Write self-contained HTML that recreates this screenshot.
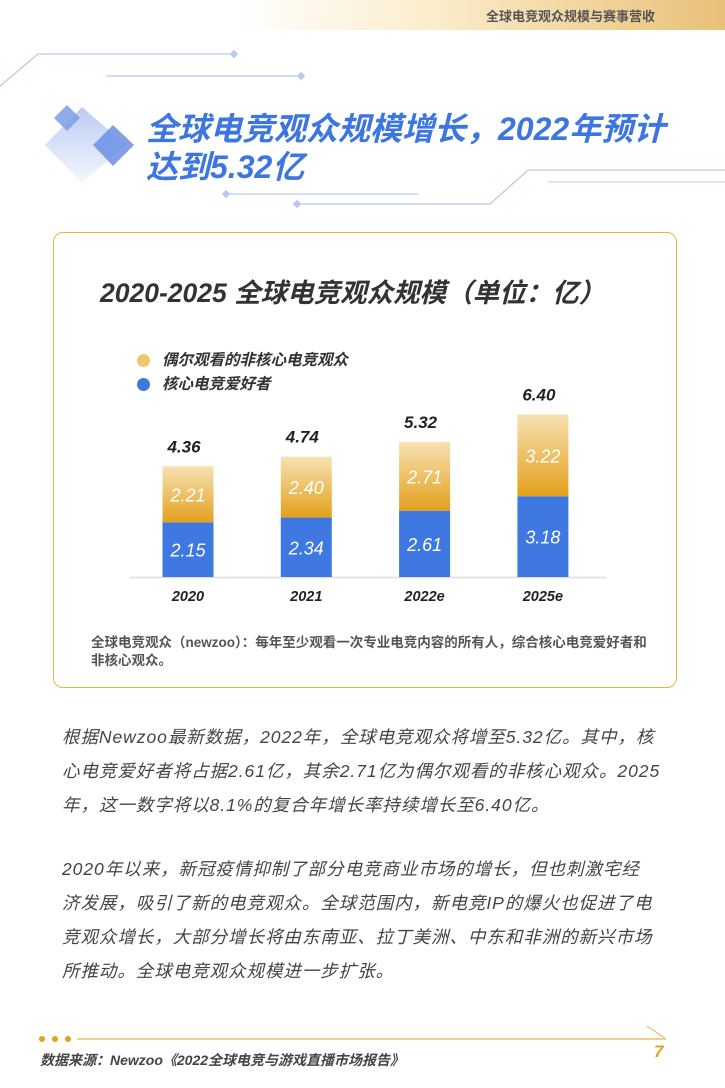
<!DOCTYPE html>
<html><head><meta charset="utf-8">
<style>
*{margin:0;padding:0;box-sizing:border-box}
body{width:725px;height:1088px;background:#fff;position:relative;overflow:hidden;font-family:"Liberation Sans","Noto Sans CJK SC",sans-serif}
.abs{position:absolute}
.para{position:absolute;left:62px;width:660px;font-size:17.5px;line-height:34px;color:#444;font-style:italic;letter-spacing:0.95px;white-space:nowrap}
</style></head><body>
<div class="abs" style="left:0;top:0;width:725px;height:30px;background:linear-gradient(90deg,#fff 33%,#fbeccb 60%,#e9c077 100%)"></div>
<div class="abs" style="left:486px;top:6px;font-size:13px;font-weight:bold;color:#555">全球电竞观众规模与赛事营收</div>
<svg class="abs" style="left:0;top:0" width="725" height="240">
<g stroke="#b7c9ee" stroke-width="1.3" fill="none">
<polyline points="0,86 38,54 233,54"/><line x1="106" y1="76" x2="301" y2="76"/>
<line x1="225" y1="194" x2="418" y2="194"/><polyline points="297,204 490,204 528,170 725,170"/>
<line x1="548" y1="182" x2="725" y2="182" stroke="#dde5f5" stroke-width="2"/></g>
<g fill="#b7c9ee"><rect x="231" y="51" width="6" height="6" transform="rotate(45 234 54)"/><rect x="298" y="73" width="6" height="6" transform="rotate(45 301 76)"/>
<rect x="223" y="191" width="6" height="6" transform="rotate(45 226 194)"/><rect x="294" y="201" width="6" height="6" transform="rotate(45 297 204)"/></g>
<defs><linearGradient id="dg" x1="0" y1="0" x2="0" y2="1"><stop offset="0" stop-color="#aac0f0"/><stop offset="1" stop-color="#f2f5fd"/></linearGradient></defs>
<polygon points="82,107 126,145 82,183 45,145" fill="url(#dg)" opacity="0.8"/>
<polygon points="67,105 80,118 67,131 54,118" fill="#7c9ee8" opacity="0.85"/>
<polygon points="113,125 134,145 113,166 93,145" fill="#6b8fe5" opacity="0.85"/>
</svg>
<div class="abs" style="left:146px;top:110px;font-size:32px;font-weight:bold;font-style:italic;color:#3d76e0;line-height:38px">全球电竞观众规模增长，2022年预计<br>达到5.32亿</div>
<div class="abs" style="left:53px;top:232px;width:624px;height:456px;border:1.5px solid #e8b444;border-radius:10px"></div>
<div class="abs" style="left:100px;top:271px;font-size:26.5px;font-weight:bold;font-style:italic;color:#333">2020-2025 全球电竞观众规模（单位：亿）</div>
<div class="abs" style="left:137px;top:348px;font-size:15.5px;font-weight:bold;font-style:italic;color:#333"><span style="display:inline-block;width:13px;height:13px;border-radius:50%;background:#f0c66a;vertical-align:-2px;margin-right:12px"></span>偶尔观看的非核心电竞观众</div>
<div class="abs" style="left:137px;top:372px;font-size:15.5px;font-weight:bold;font-style:italic;color:#333"><span style="display:inline-block;width:13px;height:13px;border-radius:50%;background:#3f78e0;vertical-align:-2px;margin-right:12px"></span>核心电竞爱好者</div>
<svg id="chart" class="abs" style="left:0;top:380px" width="725" height="240">
<defs><linearGradient id="og" x1="0" y1="0" x2="0" y2="1"><stop offset="0" stop-color="#f7e2b3"/><stop offset="1" stop-color="#e3a01c"/></linearGradient></defs>
</svg>
<div class="abs" style="left:91px;top:634px;font-size:13.5px;font-weight:bold;color:#555;line-height:18px;white-space:nowrap">全球电竞观众（newzoo）：每年至少观看一次专业电竞内容的所有人，综合核心电竞爱好者和<br>非核心观众。</div>
<div class="para" style="top:720px">根据Newzoo最新数据，2022年，全球电竞观众将增至5.32亿。其中，核<br>心电竞爱好者将占据2.61亿，其余2.71亿为偶尔观看的非核心观众。2025<br>年，这一数字将以8.1%的复合年增长率持续增长至6.40亿。</div>
<div class="para" style="top:852px">2020年以来，新冠疫情抑制了部分电竞商业市场的增长，但也刺激宅经<br>济发展，吸引了新的电竞观众。全球范围内，新电竞IP的爆火也促进了电<br>竞观众增长，大部分增长将由东南亚、拉丁美洲、中东和非洲的新兴市场<br>所推动。全球电竞观众规模进一步扩张。</div>
<svg class="abs" style="left:0;top:1020px" width="725" height="30">
<circle cx="42" cy="19" r="3" fill="#e3a01c"/><circle cx="55" cy="19" r="3" fill="#e3a01c"/><circle cx="68" cy="19" r="3" fill="#e3a01c"/>
<line x1="77" y1="19" x2="666" y2="19" stroke="#ecc16c" stroke-width="1.5"/><line x1="647" y1="6" x2="666" y2="19" stroke="#ecc16c" stroke-width="1.2"/>
</svg>
<div class="abs" style="left:40px;top:1050px;font-size:14px;font-weight:bold;font-style:italic;color:#444">数据来源：Newzoo《2022全球电竞与游戏直播市场报告》</div>
<div class="abs" style="left:654px;top:1042px;font-size:17px;font-weight:bold;font-style:italic;color:#e3a01c">7</div>
<script>
const years=["2020","2021","2022e","2025e"];
const core=[2.15,2.34,2.61,3.18];
const casual=[2.21,2.40,2.71,3.22];
const totals=["4.36","4.74","5.32","6.40"];
const svg=document.getElementById('chart');const NS='http://www.w3.org/2000/svg';
const base=197, ppu=25.4, x0=188, step=118.3, bw=51;
const y=v=>base-v*ppu; const xc=i=>x0+i*step;
function mk(t,a,txt){const e=document.createElementNS(NS,t);for(const k in a)e.setAttribute(k,a[k]);if(txt)e.textContent=txt;svg.appendChild(e);return e;}
const ax=mk('line',{x1:130,x2:606,y1:base+0.5,y2:base+0.5,stroke:'#ddd','stroke-width':1.5});


years.forEach((yr,i)=>{
 const c=xc(i);
 const b=mk('rect',{x:c-bw/2,y:y(core[i]),width:bw,height:core[i]*ppu,fill:'#3f78e0'});
 
 
 const o=mk('rect',{x:c-bw/2,y:y(core[i]+casual[i]),width:bw,height:casual[i]*ppu,fill:'url(#og)'});
 
 
 const st='font-family:Liberation Sans,sans-serif;font-style:italic;';
 const l1=mk('text',{x:c,y:y(core[i]/2)+7,'text-anchor':'middle',fill:'#fff','font-size':18,style:st},core[i].toFixed(2));
 
 
 const l2=mk('text',{x:c,y:y(core[i]+casual[i]/2)+7,'text-anchor':'middle',fill:'#fff','font-size':18,style:st},casual[i].toFixed(2));
 
 
 const l3=mk('text',{x:c-4,y:y(core[i]+casual[i])-14,'text-anchor':'middle',fill:'#222','font-size':17,'font-weight':'bold',style:st},totals[i]);
 
 
 const l4=mk('text',{x:c,y:base+24,'text-anchor':'middle',fill:'#222','font-size':14.5,'font-weight':'bold',style:st},yr);
 
 
});
</script>
</body></html>
